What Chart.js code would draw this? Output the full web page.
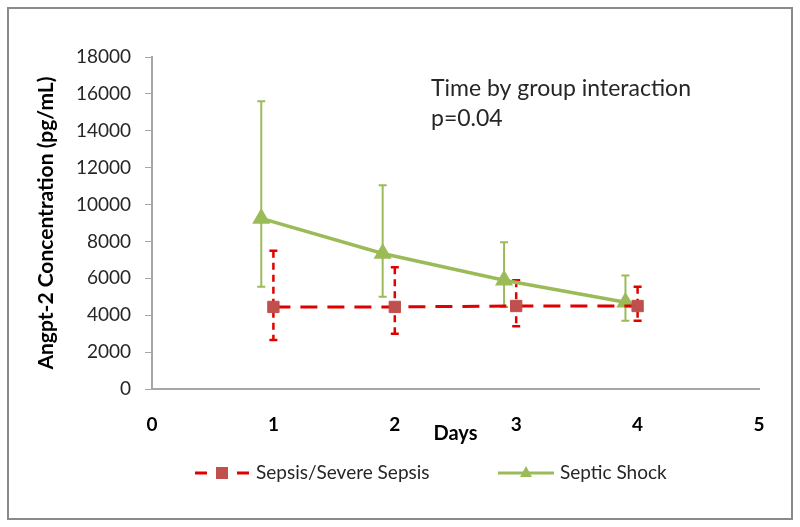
<!DOCTYPE html>
<html>
<head>
<meta charset="utf-8">
<script src="https://cdn.jsdelivr.net/npm/chart.js@4/dist/chart.umd.min.js"></script>
<style>
  html, body { margin: 0; padding: 0; background: #fff; }
  #wrap { width: 800px; height: 527px; position: relative; }
</style>
</head>
<body>
<div id="wrap"><canvas id="chart"></canvas></div>
<script>
// --- dados ---
const sepsisDays  = [1, 2, 3, 4];
const sepsisMean  = [4450, 4450, 4500, 4500];
const sepsisUpper = [7500, 6600, 5900, 5550];
const sepsisLower = [2650, 3000, 3400, 3700];

const shockDays  = [0.9, 1.9, 2.9, 3.9];
const shockMean  = [9250, 7350, 5900, 4700];
const shockUpper = [15600, 11050, 7950, 6150];
const shockLower = [5550, 5000, 4450, 3700];

const xTicks = [0, 1, 2, 3, 4, 5];
const yTicks = [0, 2000, 4000, 6000, 8000, 10000, 12000, 14000, 16000, 18000];

const RED = '#c0504d';
const RED_LINE = '#e00000';
const GREEN = '#9bbb59';
const FONT = 'Lato, "Open Sans", sans-serif';

function toPoints(xs, ys) {
    return xs.map((x, i) => ({ x: x, y: ys[i] }));
}

// barras de erro desenhadas pelas escalas do gráfico
const errorBars = {
    id: 'errorBars',
    beforeDatasetsDraw(chart) {
        const ctx = chart.ctx;
        const xs = chart.scales.x, ys = chart.scales.y;
        const draw = (days, lo, hi, color, dash, w) => {
            ctx.save();
            ctx.strokeStyle = color;
            ctx.lineWidth = w;
            days.forEach((d, i) => {
                const px = xs.getPixelForValue(d);
                const top = ys.getPixelForValue(hi[i]);
                const bot = ys.getPixelForValue(lo[i]);
                ctx.setLineDash(dash);
                ctx.beginPath();
                ctx.moveTo(px, top);
                ctx.lineTo(px, bot);
                ctx.stroke();
                ctx.setLineDash([]);
                ctx.beginPath();
                ctx.moveTo(px - 4, top); ctx.lineTo(px + 4, top);
                ctx.moveTo(px - 4, bot); ctx.lineTo(px + 4, bot);
                ctx.stroke();
            });
            ctx.restore();
        };
        draw(shockDays, shockLower, shockUpper, GREEN, [], 2);
        draw(sepsisDays, sepsisLower, sepsisUpper, RED_LINE, [7, 5], 2.5);
    }
};

// textos extras, legenda e moldura
const extras = {
    id: 'extras',
    afterDraw(chart) {
        const ctx = chart.ctx;
        const area = chart.chartArea;
        ctx.save();
        // moldura
        ctx.strokeStyle = '#8a8a8a';
        ctx.lineWidth = 2;
        ctx.strokeRect(8, 8, 784, 511);

        // anotação
        ctx.fillStyle = '#262626';
        ctx.font = '23px ' + FONT;
        ctx.textAlign = 'left';
        ctx.textBaseline = 'alphabetic';
        ctx.fillText('Time by group interaction', 431, 96);
        ctx.fillText('p=0.04', 431, 126);

        // títulos dos eixos
        ctx.font = 'bold 20px ' + FONT;
        ctx.fillStyle = '#000';
        ctx.textAlign = 'center';
        ctx.textBaseline = 'middle';
        ctx.fillText('Days', (area.left + area.right) / 2, 434);
        ctx.font = 'bold 21px ' + FONT;
        ctx.translate(46, (area.top + area.bottom) / 2);
        ctx.rotate(-Math.PI / 2);
        ctx.fillText('Angpt-2 Concentration (pg/mL)', 0, 0);
        ctx.restore();

        // legenda
        ctx.save();
        const ly = 473;
        ctx.strokeStyle = RED_LINE;
        ctx.lineWidth = 3;
        ctx.beginPath();
        ctx.moveTo(195, ly); ctx.lineTo(207, ly);
        ctx.moveTo(237, ly); ctx.lineTo(249, ly);
        ctx.stroke();
        ctx.fillStyle = RED;
        ctx.fillRect(216, ly - 6, 12, 12);
        ctx.strokeStyle = GREEN;
        ctx.beginPath();
        ctx.moveTo(498, ly); ctx.lineTo(554, ly);
        ctx.stroke();
        ctx.fillStyle = GREEN;
        ctx.beginPath();
        ctx.moveTo(526, ly - 7); ctx.lineTo(532, ly + 4); ctx.lineTo(520, ly + 4);
        ctx.closePath();
        ctx.fill();
        ctx.fillStyle = '#262626';
        ctx.font = '19px ' + FONT;
        ctx.textAlign = 'left';
        ctx.textBaseline = 'middle';
        ctx.fillText('Sepsis/Severe Sepsis', 256, ly);
        ctx.fillText('Septic Shock', 560, ly);
        ctx.restore();
    }
};

new Chart(document.getElementById('chart'), {
    type: 'scatter',
    data: {
        datasets: [
            {
                label: 'Sepsis/Severe Sepsis',
                data: toPoints(sepsisDays, sepsisMean),
                showLine: true,
                borderColor: RED_LINE,
                borderWidth: 3,
                borderDash: [17, 10],
                pointStyle: 'rect',
                pointRadius: 8,
                pointBackgroundColor: RED,
                pointBorderColor: RED,
                pointBorderWidth: 1
            },
            {
                label: 'Septic Shock',
                data: toPoints(shockDays, shockMean),
                showLine: true,
                borderColor: GREEN,
                borderWidth: 3.5,
                pointStyle: 'triangle',
                pointRadius: 7,
                pointBackgroundColor: GREEN,
                pointBorderColor: GREEN
            }
        ]
    },
    options: {
        responsive: true,
        maintainAspectRatio: false,
        animation: false,
        layout: { padding: { left: 0, right: 41, top: 57, bottom: 0 } },
        plugins: {
            legend: { display: false },
            tooltip: { enabled: false }
        },
        scales: {
            x: {
                type: 'linear',
                min: 0, max: 5,
                afterBuildTicks: axis => { axis.ticks = xTicks.map(v => ({ value: v })); },
                afterFit: axis => { axis.height = 138; },
                grid: { display: false, drawOnChartArea: false, drawTicks: true, tickLength: 6, color: '#a6a6a6' },
                border: { color: '#a6a6a6', width: 2 },
                ticks: { color: '#000', padding: 18, maxRotation: 0, font: { family: FONT, size: 19, weight: 'bold' } }
            },
            y: {
                min: 0, max: 18000,
                afterBuildTicks: axis => { axis.ticks = yTicks.map(v => ({ value: v })); },
                afterFit: axis => { axis.width = 152; },
                grid: { display: true, drawOnChartArea: false, drawTicks: true, tickLength: 7, color: '#a6a6a6' },
                border: { color: '#a6a6a6', width: 2 },
                ticks: { color: '#262626', padding: 14, callback: v => String(v), font: { family: FONT, size: 19 } }
            }
        }
    },
    plugins: [errorBars, extras]
});
</script>
</body>
</html>
